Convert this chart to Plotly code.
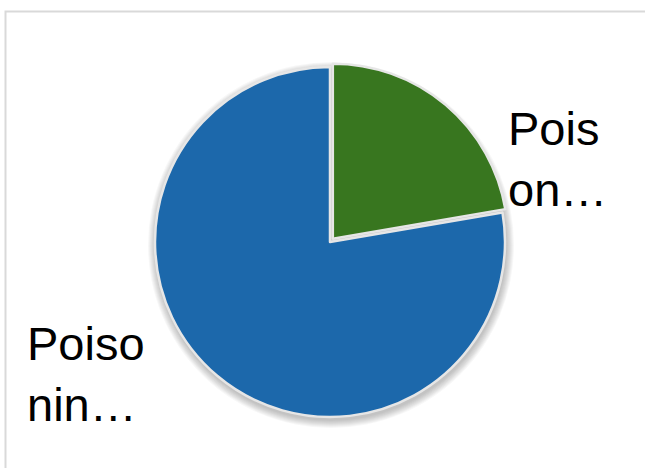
import plotly.graph_objects as go

# Two-slice pie: share of each category
labels = ["Pois<br>on…", "Poiso<br>nin…"]
values = [22.3, 77.7]
colors = ["#38761f", "#1c68ab"]

W, H = 645, 468
cx, cy, r = 330, 242, 175          # pie centre / radius in pixels
pull = [0.025, 0.0]
half = r * (1 + max(pull))

fig = go.Figure()

fig.add_trace(go.Pie(
    labels=labels,
    values=values,
    sort=False,
    direction="clockwise",
    rotation=0,
    pull=pull,
    marker=dict(colors=colors, line=dict(color="#e6e6e6", width=2.5)),
    textinfo="none",
    hoverinfo="label+percent",
    showlegend=False,
    domain=dict(x=[(cx - half) / W, (cx + half) / W],
                y=[1 - (cy + half) / H, 1 - (cy - half) / H]),
))

# soft drop shadow behind the pie
shapes = []
for i in range(8, 0, -1):
    rr = r + i
    sx, sy = cx + 1, cy + 3
    shapes.append(dict(
        type="circle", xref="paper", yref="paper", layer="below",
        x0=(sx - rr) / W, x1=(sx + rr) / W,
        y0=1 - (sy + rr) / H, y1=1 - (sy - rr) / H,
        fillcolor="rgba(0,0,0,0.03)", line=dict(width=0),
    ))

# chart-area frame
shapes.append(dict(
    type="rect", xref="paper", yref="paper", layer="above",
    x0=5.5 / W, x1=1.2, y0=-0.2, y1=1 - 11.5 / H,
    line=dict(color="#d9d9d9", width=2), fillcolor="rgba(0,0,0,0)",
))

label_pos = [(506, 100), (25, 315)]
annotations = []
for text, (lx, ly) in zip(labels, label_pos):
    annotations.append(dict(
        text=text, xref="paper", yref="paper",
        x=lx / W, y=1 - ly / H, xanchor="left", yanchor="top",
        align="left", showarrow=False,
        font=dict(family="Liberation Sans, Arial, sans-serif", size=47, color="#000000"),
    ))

fig.update_layout(
    width=W, height=H,
    margin=dict(l=0, r=0, t=0, b=0),
    paper_bgcolor="#ffffff",
    plot_bgcolor="#ffffff",
    shapes=shapes,
    annotations=annotations,
)

fig.write_html("out.html")
